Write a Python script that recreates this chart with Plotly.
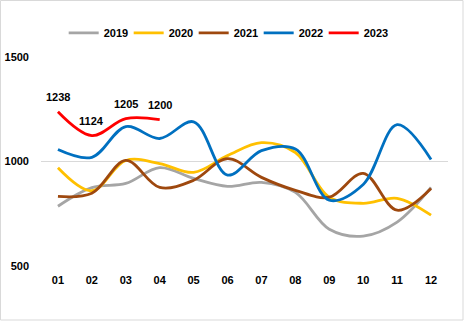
import plotly.graph_objects as go

months = ["01", "02", "03", "04", "05", "06", "07", "08", "09", "10", "11", "12"]
y2019 = [786, 875, 895, 971, 919, 881, 900, 852, 676, 643, 710, 876]
y2020 = [970, 860, 1005, 990, 948, 1028, 1090, 1043, 829, 800, 824, 743]
y2021 = [833, 848, 1005, 876, 910, 1014, 924, 862, 829, 943, 767, 871]
y2022 = [1057, 1020, 1167, 1110, 1190, 935, 1052, 1060, 815, 890, 1176, 1010]
y2023 = [1238, 1124, 1205, 1200]
months2023 = months[:4]

series = [
    ("2019", y2019, months, "#A5A5A5"),
    ("2020", y2020, months, "#FFC000"),
    ("2021", y2021, months, "#9E480E"),
    ("2022", y2022, months, "#0070C0"),
    ("2023", y2023, months2023, "#FF0000"),
]

font_family = "Arial, Liberation Sans, sans-serif"
bold = dict(family=font_family, size=11, color="black", weight="bold")

fig = go.Figure()
for name, ys, xs, color in series:
    fig.add_trace(go.Scatter(
        x=xs, y=ys, name=name, mode="lines",
        line=dict(color=color, width=2.8, shape="spline", smoothing=1.0),
    ))

annotations = [
    dict(x=months.index(m), y=v, xref="x", yref="y", text=str(v), showarrow=False,
         yshift=15, font=bold)
    for m, v in zip(months2023, y2023)
]

fig.update_layout(
    width=466, height=323,
    margin=dict(l=41, r=18, t=57, b=57),
    plot_bgcolor="white", paper_bgcolor="white",
    font=bold,
    showlegend=True,
    legend=dict(
        orientation="h", x=0.455, xanchor="center", y=1.115, yanchor="middle",
        font=bold, entrywidth=20, entrywidthmode="pixels", tracegroupgap=0,
        bgcolor="rgba(0,0,0,0)",
    ),
    annotations=annotations,
    xaxis=dict(
        type="category", categoryorder="array", categoryarray=months,
        range=[-0.5, 11.5], showgrid=False, zeroline=False, showline=False,
        ticks="", tickfont=bold, automargin=False, ticklabelstandoff=6,
    ),
    yaxis=dict(
        range=[500, 1500], dtick=500, tick0=500, showgrid=True, gridcolor="#D9D9D9",
        gridwidth=1, zeroline=False, showline=False, ticks="",
        ticklabelstandoff=11, tickfont=bold, automargin=False,
    ),
    shapes=[dict(
        type="rect", xref="paper", yref="paper",
        x0=(0.5 - 41) / 407, x1=(463 - 41) / 407,
        y0=(266 - 320) / 209, y1=(266 - 0.5) / 209,
        line=dict(color="#D9D9D9", width=1), fillcolor="rgba(0,0,0,0)", layer="below",
    )],
)

fig.write_html("out.html")
